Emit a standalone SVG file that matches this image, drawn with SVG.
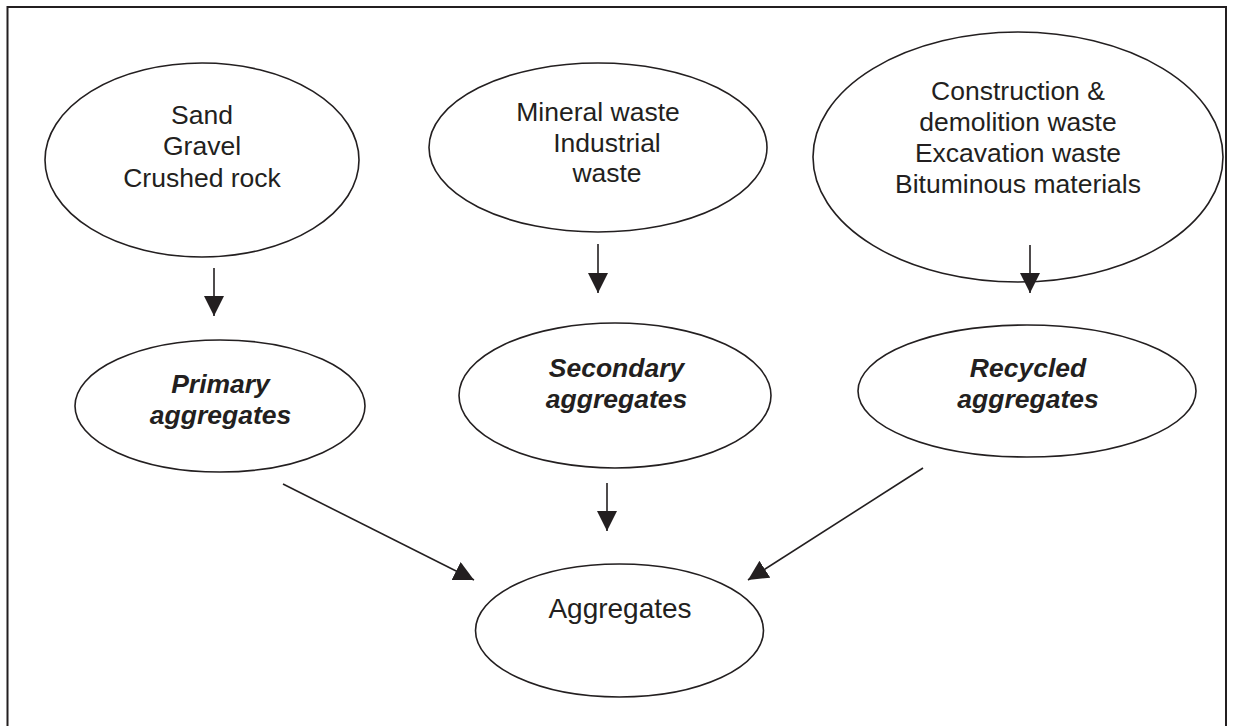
<svg xmlns="http://www.w3.org/2000/svg" width="1234" height="726" viewBox="0 0 1234 726">
<style>
.node ellipse{fill:#fff;stroke:#231f20;stroke-width:1.6}
text{font-family:"Liberation Sans",Arial,sans-serif;font-size:26.5px;fill:#231f20;text-anchor:middle}
.bi{font-weight:bold;font-style:italic}
#connectors line{stroke:#231f20;stroke-width:1.6;marker-end:url(#arrow)}
</style>
<defs>
<marker id="arrow" markerUnits="userSpaceOnUse" markerWidth="20" markerHeight="20" refX="20" refY="10" orient="auto" viewBox="0 0 20 20">
<path d="M0,0 L20,10 L0,20 z" fill="#231f20"/>
</marker>
</defs>
<rect width="1234" height="726" fill="#fff"/>
<path d="M7.5,740 V7 H1226 V740" fill="none" stroke="#231f20" stroke-width="2"/>
<g id="sand" class="node">
<ellipse cx="202" cy="160" rx="157" ry="97"/>
<text x="202" y="124">Sand</text>
<text x="202" y="155">Gravel</text>
<text x="202" y="186.5">Crushed rock</text>
</g>
<g id="mineral" class="node">
<ellipse cx="598" cy="147.5" rx="169" ry="84.5"/>
<text x="598" y="120.5">Mineral waste</text>
<text x="607" y="151.5">Industrial</text>
<text x="607" y="182">waste</text>
</g>
<g id="construction" class="node">
<ellipse cx="1018" cy="157" rx="205" ry="125"/>
<text x="1018" y="100">Construction &amp;</text>
<text x="1018" y="131">demolition waste</text>
<text x="1018" y="162">Excavation waste</text>
<text x="1018" y="193">Bituminous materials</text>
</g>
<g id="primary" class="node">
<ellipse cx="220" cy="406" rx="145" ry="66"/>
<text class="bi" x="220.5" y="393">Primary</text>
<text class="bi" x="220.5" y="424">aggregates</text>
</g>
<g id="secondary" class="node">
<ellipse cx="615" cy="395.5" rx="156" ry="72.5"/>
<text class="bi" x="616.5" y="377">Secondary</text>
<text class="bi" x="616.5" y="408">aggregates</text>
</g>
<g id="recycled" class="node">
<ellipse cx="1027" cy="391" rx="169" ry="66"/>
<text class="bi" x="1028" y="377">Recycled</text>
<text class="bi" x="1028" y="408">aggregates</text>
</g>
<g id="aggregates" class="node">
<ellipse cx="619.5" cy="630.5" rx="144" ry="66.5"/>
<text x="620" y="618" style="font-size:28px">Aggregates</text>
</g>
<g id="connectors">
<line x1="214" y1="268" x2="214" y2="316"/>
<line x1="598" y1="244" x2="598" y2="293"/>
<line x1="1030" y1="245" x2="1030" y2="293"/>
<line x1="283" y1="484" x2="474" y2="580"/>
<line x1="607" y1="483" x2="607" y2="531"/>
<line x1="923" y1="468" x2="748" y2="580"/>
</g>
</svg>
